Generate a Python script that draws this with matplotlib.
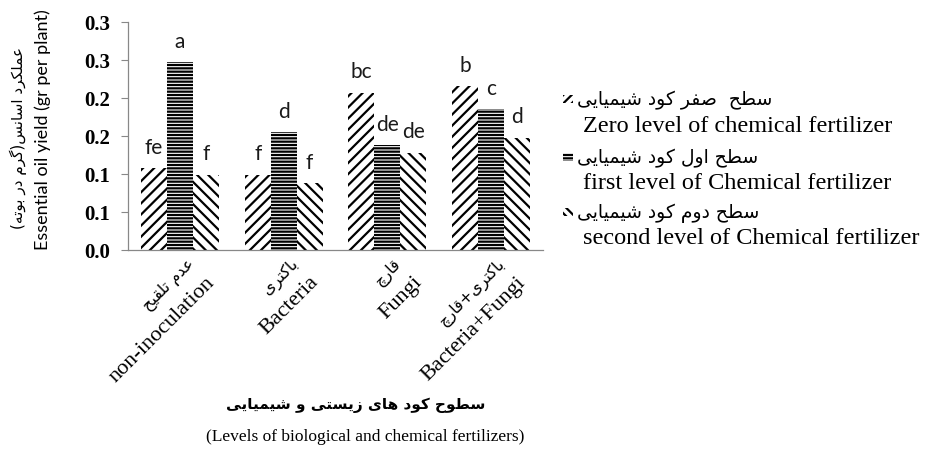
import unicodedata
import matplotlib
matplotlib.use("Agg")
import matplotlib.pyplot as plt
import matplotlib.transforms as mtransforms
from matplotlib.patches import Rectangle
import numpy as np

# ---------------- data ----------------
categories_fa = ["عدم تلقیح", "باکتری", "قارچ", "باکتری+قارچ"]
categories_en = ["non-inoculation", "Bacteria", "Fungi", "Bacteria+Fungi"]
zero_level = [0.108, 0.099, 0.207, 0.216]
first_level = [0.247, 0.155, 0.138, 0.185]
second_level = [0.099, 0.088, 0.128, 0.148]
letters_zero = ["fe", "f", "bc", "b"]
letters_first = ["a", "d", "de", "c"]
letters_second = ["f", "f", "de", "d"]
ytick_values = [0.0, 0.05, 0.10, 0.15, 0.20, 0.25, 0.30]
ytick_labels = ["0.0", "0.1", "0.1", "0.2", "0.2", "0.3", "0.3"]
series_fa = ["سطح  صفر کود شیمیایی", "سطح اول کود شیمیایی", "سطح دوم کود شیمیایی"]
series_en = ["Zero level of chemical fertilizer",
             "first level of Chemical fertilizer",
             "second level of Chemical fertilizer"]
ylabel_fa = "عملکرد اسانس(گرم در بوته)"
ylabel_en = "Essential oil yield (gr per plant)"
xlabel_fa = "سطوح کود های زیستی و شیمیایی"
xlabel_en = "(Levels of biological and chemical fertilizers)"

# ---------------- simple Persian shaping (matplotlib has no RTL shaping) ----------------
RIGHT_JOIN_ONLY = set("اآأإدذرزژوؤۀة")
MIRROR = {"(": ")", ")": "("}


def _is_ar(c):
    try:
        return unicodedata.name(c).startswith("ARABIC LETTER")
    except ValueError:
        return False


def _form(c, form):
    try:
        return unicodedata.lookup(unicodedata.name(c) + " " + form + " FORM")
    except KeyError:
        return None


def fa(s):
    out = []
    n = len(s)
    for i, c in enumerate(s):
        if not _is_ar(c):
            out.append(MIRROR.get(c, c))
            continue
        p = s[i - 1] if i > 0 else ""
        q = s[i + 1] if i < n - 1 else ""
        jp = p != "" and _is_ar(p) and p not in RIGHT_JOIN_ONLY
        jn = q != "" and _is_ar(q) and c not in RIGHT_JOIN_ONLY
        if jp and jn:
            form = "MEDIAL"
        elif jp:
            form = "FINAL"
        elif jn:
            form = "INITIAL"
        else:
            form = "ISOLATED"
        g = _form(c, form)
        if g is None:
            g = _form(c, "FINAL" if jp else "ISOLATED") or c
        out.append(g)
    return "".join(reversed(out))


# ---------------- figure ----------------
plt.rcParams["hatch.linewidth"] = 1.6
W, H = 932, 452
fig = plt.figure(figsize=(W / 100, H / 100), dpi=100)
ax = fig.add_axes([128 / W, 201 / H, 415 / W, 228 / H])

x = np.arange(len(categories_en))
bw = 0.25
series = [zero_level, first_level, second_level]
hatches = ["///", "-----", "\\\\\\"]
letters = [letters_zero, letters_first, letters_second]
for k, (vals, hat, labs) in enumerate(zip(series, hatches, letters)):
    bars = ax.bar(x + (k - 1) * bw, vals, bw, facecolor="white",
                  edgecolor="black", hatch=hat, linewidth=0)
    for b, lab in zip(bars, labs):
        ax.annotate(lab, (b.get_x() + b.get_width() / 2, b.get_height()),
                    xytext=(0, 11), textcoords="offset points",
                    ha="center", va="baseline", fontsize=15,
                    family=["Lato", "DejaVu Sans"], color="#1a1a1a")

ax.set_xlim(-0.5, len(categories_en) - 0.5)
ax.set_ylim(0, 0.30)
ax.set_yticks(ytick_values)
ax.set_yticklabels(ytick_labels, family="Liberation Serif", fontweight="bold",
                   fontsize=15)
ax.tick_params(axis="y", length=5, width=0.8, color="#888888", pad=8)
ax.set_xticks([])
for side in ["top", "right"]:
    ax.spines[side].set_visible(False)
for side in ["left", "bottom"]:
    ax.spines[side].set_color("#888888")
    ax.spines[side].set_linewidth(0.9)

# category labels, rotated 45 degrees
trans = mtransforms.blended_transform_factory(ax.transData, ax.transAxes)
for i in range(len(categories_en)):
    t_en = trans + mtransforms.ScaledTranslation(25 / 100, -22 / 100, fig.dpi_scale_trans)
    ax.text(i, 0, categories_en[i], transform=t_en, rotation=45,
            rotation_mode="anchor", ha="right", va="top",
            family="Liberation Serif", fontsize=16, clip_on=False)
    t_fa = trans + mtransforms.ScaledTranslation(6 / 100, -5 / 100, fig.dpi_scale_trans)
    ax.text(i, 0, fa(categories_fa[i]), transform=t_fa, rotation=45,
            rotation_mode="anchor", ha="right", va="top",
            family="DejaVu Sans", fontsize=11.5, clip_on=False)

# axis titles
fig.text(18 / W, 1 - 138 / H, fa(ylabel_fa), rotation=90, ha="center",
         va="center", family="DejaVu Sans", fontsize=11)
fig.text(43 / W, 1 - 130 / H, ylabel_en, rotation=90, ha="center",
         va="center", family=["Lato", "DejaVu Sans"], fontsize=13)
fig.text(356 / W, 1 - 405 / H, fa(xlabel_fa), ha="center", va="center",
         family="DejaVu Sans", fontweight="bold", fontsize=11)
fig.text(365 / W, 1 - 437 / H, xlabel_en, ha="center", va="center",
         family="Liberation Serif", fontsize=12.5)

# legend (manual, to allow Persian + English lines)
leg_fa_y = [100, 158, 213]
leg_hatch = ["////", "-----", "\\\\\\\\"]
for k in range(3):
    yc = leg_fa_y[k]
    fig.patches.append(Rectangle((563 / W, 1 - (yc + 4) / H), 10 / W, 8 / H,
                                 transform=fig.transFigure, facecolor="white",
                                 edgecolor="black", linewidth=0,
                                 hatch=leg_hatch[k]))
    fig.text(577 / W, 1 - yc / H, fa(series_fa[k]), ha="left", va="center",
             family="DejaVu Sans", fontsize=13.5)
    fig.text(583 / W, 1 - (yc + 26) / H, series_en[k], ha="left",
             va="center", family="Liberation Serif", fontsize=17.5)

fig.savefig("out.png", dpi=100)
